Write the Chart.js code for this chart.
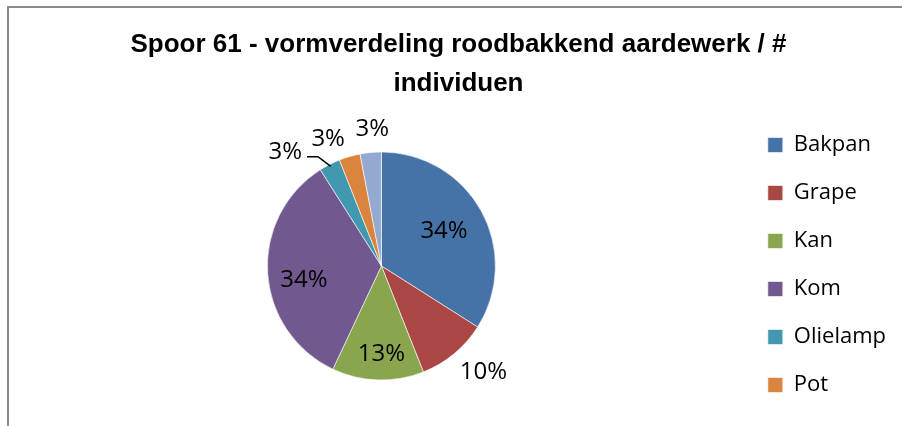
<!DOCTYPE html>
<html>
<head>
<meta charset="utf-8">
<script src="https://cdn.jsdelivr.net/npm/chart.js@4.4.1/dist/chart.umd.min.js"></script>
<style>
  html, body { margin: 0; padding: 0; background: #fff; overflow: hidden; }
  #frame {
    position: absolute; left: 7px; top: 6px;
    width: 960px; height: 560px;
    border-left: 2px solid #898989; border-top: 2px solid #898989;
  }
  #pie { position: absolute; left: 0; top: 0; }
</style>
</head>
<body>
<div id="frame"><canvas id="pie" width="900" height="514"></canvas></div>
<script>
// categorieën en waarden (percentages zoals op de grafiek)
const categories = ["Bakpan", "Grape", "Kan", "Kom", "Olielamp", "Pot", "Teil"];
const values = [34, 10, 13, 34, 3, 3, 3];
const sliceColors = ["#4572A7", "#AA4643", "#89A54E", "#71588F", "#4198AF", "#DB843D", "#93A9CF"];

// de legenda past maar 6 items (de laatste valt weg, zoals in Excel)
const legendShown = 6;

// plaats van elk percentage-label: hoekverschuiving (graden) en straalfactor
const labelPlace = [
  { da: -0.5, f: 0.63 },
  { da: -4.3, f: 1.29 },
  { da: -1.8, f: 0.77 },
  { da: -6.6, f: 0.69 },
  { da: -13.1, f: 1.31, leader: true },
  { da: -6.5, f: 1.21 },
  { da: 1.6, f: 1.20 },
];

const labelFont = "24px 'Open Sans'";

// eigen plugin die de percentages tekent
const pctLabels = {
  id: "pctLabels",
  afterDatasetsDraw(chart) {
    const ctx = chart.ctx;
    const arcs = chart.getDatasetMeta(0).data;
    const total = values.reduce((a, b) => a + b, 0);
    ctx.save();
    ctx.font = labelFont;
    ctx.fillStyle = "#000";
    ctx.textAlign = "center";
    ctx.textBaseline = "middle";
    arcs.forEach((arc, i) => {
      const p = labelPlace[i];
      const mid = (arc.startAngle + arc.endAngle) / 2;
      const a = mid + p.da * Math.PI / 180;
      const r = arc.outerRadius * p.f;
      const x = arc.x + Math.cos(a) * r;
      const y = arc.y + Math.sin(a) * r;
      const txt = Math.round(values[i] / total * 100) + "%";
      ctx.fillText(txt, x, y);
      if (p.leader) {
        const w = ctx.measureText(txt).width;
        const x0 = x + w / 2 + 5, y0 = y + 5;
        ctx.beginPath();
        ctx.strokeStyle = "#000";
        ctx.lineWidth = 1.5;
        ctx.moveTo(x0, y0);
        ctx.lineTo(x0 + 11, y0);
        ctx.lineTo(arc.x + Math.cos(mid) * arc.outerRadius * 0.98,
                   arc.y + Math.sin(mid) * arc.outerRadius * 0.98);
        ctx.stroke();
      }
    });
    ctx.restore();
  }
};

new Chart(document.getElementById("pie"), {
  type: "pie",
  plugins: [pctLabels],
  data: {
    labels: categories,
    datasets: [{
      data: values,
      backgroundColor: sliceColors,
      borderColor: "rgba(255,255,255,0.6)",
      borderWidth: 1,
      radius: 114,
    }],
  },
  options: {
    responsive: false,
    animation: false,
    layout: { padding: { left: 12, right: 13, top: 0, bottom: 0 } },
    plugins: {
      tooltip: { enabled: false },
      title: {
        display: true,
        text: ["Spoor 61 - vormverdeling roodbakkend aardewerk / #", "individuen"],
        color: "#000",
        font: { family: "'Liberation Sans'", size: 26, weight: "bold", lineHeight: 1.48 },
        padding: { top: 18, bottom: 6 },
      },
      // lege ondertitel als ruimte onder de taart
      subtitle: {
        display: true,
        text: "",
        position: "bottom",
        fullSize: false,
        font: { size: 10, lineHeight: 1 },
        padding: { top: 0, bottom: 89 },
      },
      legend: {
        position: "right",
        fullSize: true,
        align: "center",
        labels: {
          color: "#000",
          boxWidth: 15,
          boxHeight: 15,
          padding: 26,
          font: { family: "'Open Sans'", size: 22 },
          filter: (item) => item.index < legendShown,
        },
      },
    },
  },
});
</script>
</body>
</html>
